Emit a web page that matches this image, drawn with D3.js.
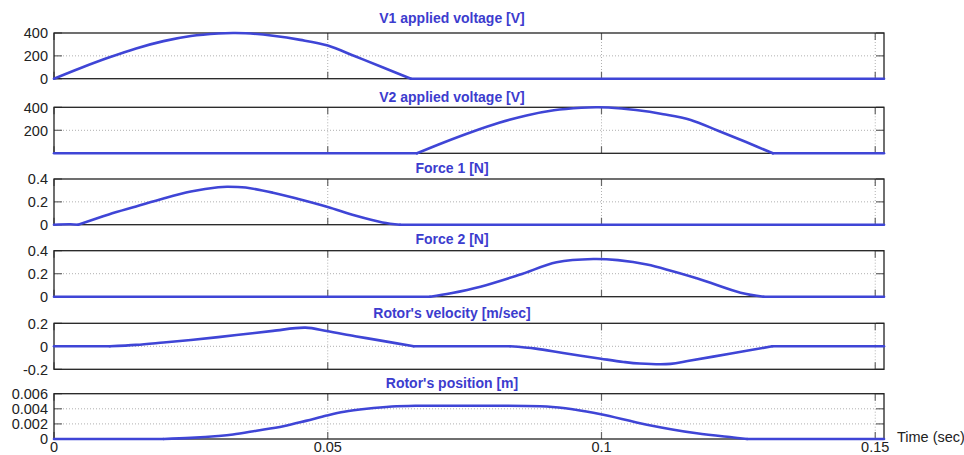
<!DOCTYPE html>
<html>
<head>
<meta charset="utf-8">
<script src="https://cdn.jsdelivr.net/npm/d3@7"></script>
<style>
  html, body { margin: 0; padding: 0; background: #fff; }
  svg { display: block; font-family: "Liberation Sans", Arial, sans-serif; }
</style>
</head>
<body>
<svg id="chart" width="964" height="455"></svg>
<script>
// ---- data ----
const xTicks = [0, 0.05, 0.1, 0.15];
const xTickLabels = ["0", "0.05", "0.1", "0.15"];
const xLabel = "Time (sec)";

const titles = [
  "V1 applied voltage [V]",
  "V2 applied voltage [V]",
  "Force 1 [N]",
  "Force 2 [N]",
  "Rotor's velocity [m/sec]",
  "Rotor's position [m]"
];

const v1Time  = [0, 0.005, 0.01, 0.015, 0.02, 0.025, 0.03, 0.0327, 0.035, 0.04, 0.045, 0.05, 0.055, 0.06, 0.0652, 0.1516];
const v1Value = [0, 96, 185, 265, 329, 374, 396, 400, 398, 376, 340, 290, 196, 100, 0, 0];

const v2Time  = [0, 0.0663, 0.0713, 0.0763, 0.0813, 0.0863, 0.0913, 0.0963, 0.0990, 0.1013, 0.1063, 0.1113, 0.1163, 0.1213, 0.1263, 0.1313, 0.1516];
const v2Value = [0, 0, 96, 185, 265, 329, 374, 396, 400, 398, 376, 340, 290, 196, 100, 0, 0];

const f1Time  = [0, 0.003, 0.0044, 0.01, 0.015, 0.02, 0.025, 0.03, 0.0316, 0.035, 0.04, 0.045, 0.05, 0.055, 0.06, 0.0632, 0.1516];
const f1Value = [0, 0.004, 0, 0.09, 0.16, 0.23, 0.29, 0.328, 0.332, 0.325, 0.28, 0.22, 0.155, 0.08, 0.02, 0, 0];

const f2Time  = [0, 0.0687, 0.0725, 0.0779, 0.085, 0.0918, 0.0985, 0.103, 0.1083, 0.1174, 0.1254, 0.1296, 0.1516];
const f2Value = [0, 0, 0.03, 0.087, 0.19, 0.299, 0.328, 0.318, 0.28, 0.16, 0.035, 0, 0];

const velTime  = [0, 0.0102, 0.015, 0.02, 0.025, 0.03, 0.035, 0.04, 0.0459, 0.0498, 0.055, 0.06, 0.0657, 0.0833, 0.088, 0.093, 0.0999, 0.104, 0.107, 0.1126, 0.116, 0.1204, 0.126, 0.1312, 0.1516];
const velValue = [0, 0, 0.012, 0.033, 0.055, 0.08, 0.107, 0.134, 0.162, 0.133, 0.088, 0.047, 0, 0, -0.02, -0.058, -0.108, -0.136, -0.150, -0.153, -0.125, -0.090, -0.043, 0, 0];

const posTime  = [0, 0.02, 0.025, 0.03, 0.0327, 0.037, 0.0419, 0.046, 0.0498, 0.053, 0.0571, 0.0617, 0.066, 0.075, 0.09, 0.095, 0.0999, 0.1083, 0.1174, 0.1241, 0.1266, 0.1516];
const posValue = [0, 0, 0.00015, 0.0004, 0.0006, 0.0011, 0.0017, 0.0024, 0.0031, 0.0036, 0.0040, 0.0043, 0.0044, 0.0044, 0.0043, 0.0039, 0.00327, 0.0019, 0.00075, 0.0002, 0, 0];

const yDomains = [[0, 400], [0, 400], [0, 0.4], [0, 0.4], [-0.2, 0.2], [0, 0.006]];
const yTickVals = [[0, 200, 400], [200, 400], [0, 0.2, 0.4], [0, 0.2, 0.4], [-0.2, 0, 0.2], [0, 0.002, 0.004, 0.006]];
const yTickLabels = [["0", "200", "400"], ["200", "400"], ["0", "0.2", "0.4"], ["0", "0.2", "0.4"], ["-0.2", "0", "0.2"], ["0", "0.002", "0.004", "0.006"]];
const seriesTime = [v1Time, v2Time, f1Time, f2Time, velTime, posTime];
const seriesValue = [v1Value, v2Value, f1Value, f2Value, velValue, posValue];

// ---- layout ----
const left = 54, right = 884;
const panelTop = [33, 107.3, 179, 250.7, 323.3, 393.7];
const panelBottom = [78.7, 153.3, 224.7, 296.7, 369.3, 439];
const titleBase = [23.3, 101.7, 173.3, 244.3, 317.7, 387.7];
const titleX = 452;
const lineColor = "#3f45d6";
const titleColor = "#3c3cce";

const svg = d3.select("#chart");
const x = d3.scaleLinear().domain([0, 0.1516]).range([left, right]);

// split a series into flat-zero runs (straight) and humps (smooth)
function segments(pts) {
  const segs = [];
  let i = 0;
  const n = pts.length;
  while (i < n - 1) {
    if (pts[i][1] === 0 && pts[i + 1][1] === 0) {
      let j = i + 1;
      while (j < n - 1 && pts[j + 1][1] === 0) j++;
      segs.push({ smooth: false, pts: pts.slice(i, j + 1) });
      i = j;
    } else {
      let j = i + 1;
      while (j < n - 1 && pts[j][1] !== 0) j++;
      segs.push({ smooth: true, pts: pts.slice(i, j + 1) });
      i = j;
    }
  }
  return segs;
}

for (let i = 0; i < 6; i++) {
  const y = d3.scaleLinear().domain(yDomains[i]).range([panelBottom[i], panelTop[i]]);
  const g = svg.append("g");

  // grid
  g.selectAll(".vg").data(xTicks.filter(t => t > 0)).join("line")
    .attr("x1", d => x(d)).attr("x2", d => x(d))
    .attr("y1", panelTop[i]).attr("y2", panelBottom[i])
    .attr("stroke", "#b0b0b0").attr("stroke-width", 1).attr("stroke-dasharray", "1,2");
  g.selectAll(".hg").data(yTickVals[i].filter(t => t > yDomains[i][0] && t < yDomains[i][1])).join("line")
    .attr("x1", left).attr("x2", right)
    .attr("y1", d => y(d)).attr("y2", d => y(d))
    .attr("stroke", "#b0b0b0").attr("stroke-width", 1).attr("stroke-dasharray", "1,2");

  // inward tick marks
  const tickLenX = 7, tickLenY = 8;
  const tc = "#666";
  xTicks.forEach(t => {
    g.append("line").attr("x1", x(t)).attr("x2", x(t)).attr("y1", panelBottom[i]).attr("y2", panelBottom[i] - tickLenX).attr("stroke", tc).attr("stroke-width", 1.2);
    g.append("line").attr("x1", x(t)).attr("x2", x(t)).attr("y1", panelTop[i]).attr("y2", panelTop[i] + tickLenX).attr("stroke", tc).attr("stroke-width", 1.2);
  });
  yTickVals[i].forEach(t => {
    g.append("line").attr("x1", left).attr("x2", left + tickLenY).attr("y1", y(t)).attr("y2", y(t)).attr("stroke", tc).attr("stroke-width", 1.2);
    g.append("line").attr("x1", right).attr("x2", right - tickLenY).attr("y1", y(t)).attr("y2", y(t)).attr("stroke", tc).attr("stroke-width", 1.2);
  });

  // frame
  g.append("rect").attr("x", left).attr("y", panelTop[i])
    .attr("width", right - left).attr("height", panelBottom[i] - panelTop[i])
    .attr("fill", "none").attr("stroke", "#222").attr("stroke-width", 1.3);

  // y tick labels
  g.selectAll(".yl").data(yTickVals[i]).join("text")
    .attr("x", 48).attr("y", d => y(d)).attr("dy", "0.36em")
    .attr("text-anchor", "end").attr("font-size", 14.5).attr("fill", "#222")
    .text((d, k) => yTickLabels[i][k]);

  // series line
  const pts = seriesTime[i].map((t, k) => [t, seriesValue[i][k]]);
  const straight = d3.line().x(d => x(d[0])).y(d => y(d[1]));
  const smooth = d3.line().x(d => x(d[0])).y(d => y(d[1])).curve(d3.curveCatmullRom.alpha(0.5));
  segments(pts).forEach(s => {
    g.append("path").datum(s.pts)
      .attr("fill", "none").attr("stroke", lineColor).attr("stroke-width", 2.6)
      .attr("stroke-linejoin", "round").attr("stroke-linecap", "round")
      .attr("d", s.smooth ? smooth : straight);
  });

  // title
  svg.append("text").attr("x", titleX).attr("y", titleBase[i])
    .attr("text-anchor", "middle").attr("font-weight", "bold").attr("font-size", 14)
    .attr("fill", titleColor).text(titles[i]);
}

// x tick labels (bottom panel)
svg.selectAll(".xl").data(xTicks).join("text")
  .attr("x", d => x(d)).attr("y", 452)
  .attr("text-anchor", "middle").attr("font-size", 14.5).attr("fill", "#222")
  .text((d, k) => xTickLabels[k]);

svg.append("text").attr("x", 897).attr("y", 442)
  .attr("font-size", 14.5).attr("fill", "#222").text(xLabel);
</script>
</body>
</html>
